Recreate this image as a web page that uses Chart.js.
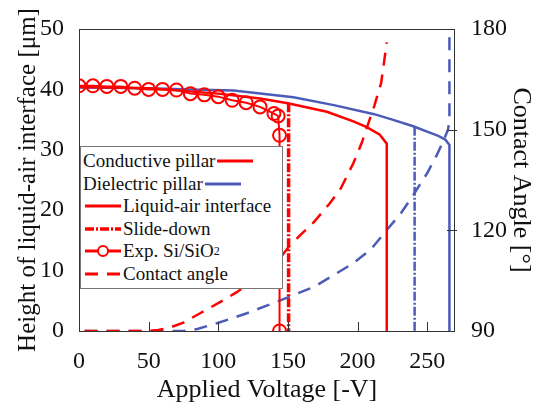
<!DOCTYPE html>
<html>
<head>
<meta charset="utf-8">
<script src="https://cdn.jsdelivr.net/npm/chart.js@4.4.1/dist/chart.umd.min.js"></script>
<style>
  html, body { margin: 0; padding: 0; background: #fff; }
  #wrap { position: relative; width: 539px; height: 403px; }
  #legend {
    position: absolute; left: 80px; top: 146px; width: 201px;
    padding: 3px 0; border: 1px solid #777; background: #fff;
    font-family: "Liberation Serif", "DejaVu Serif", serif; font-size: 19px; color: #111;
  }
  #legend .row { height: 22.5px; line-height: 22.5px; white-space: nowrap; display: flex; align-items: center; }
  #legend svg { display: block; flex: none; }
  #legend sub { font-size: 12px; line-height: 0; }
</style>
</head>
<body>
<div id="wrap">
  <canvas id="chart" width="539" height="403"></canvas>
  <div id="legend">
    <div class="row" style="padding-left:2px">Conductive pillar<svg width="38" height="6"><line x1="2" y1="3" x2="38" y2="3" stroke="#ff0000" stroke-width="3"/></svg></div>
    <div class="row" style="padding-left:2px">Dielectric pillar<svg width="38" height="6"><line x1="2" y1="3" x2="38" y2="3" stroke="#4b5cb8" stroke-width="3"/></svg></div>
    <div class="row"><svg width="42" height="14"><line x1="4" y1="7" x2="40" y2="7" stroke="#ff0000" stroke-width="3"/></svg>Liquid-air interface</div>
    <div class="row"><svg width="42" height="14"><line x1="4" y1="7" x2="40" y2="7" stroke="#ff0000" stroke-width="3.5" stroke-dasharray="9 2 2 2"/></svg>Slide-down</div>
    <div class="row"><svg width="42" height="14"><line x1="4" y1="7" x2="40" y2="7" stroke="#ff0000" stroke-width="3"/><circle cx="22" cy="7" r="5" fill="#fff" stroke="#ff0000" stroke-width="2"/></svg>Exp. Si/SiO<sub>2</sub></div>
    <div class="row"><svg width="42" height="14"><line x1="4" y1="7" x2="40" y2="7" stroke="#ff0000" stroke-width="3" stroke-dasharray="13 9"/></svg>Contact angle</div>
  </div>
</div>
<script>
// --- Data ---
// experimental Si/SiO2 heights
const expV = [0, 10, 20, 30, 40, 50, 60, 70, 80, 90, 100, 110, 120, 130, 140, 143, 144, 144];
const expH = [40.6, 40.6, 40.5, 40.5, 40.2, 40.0, 40.0, 39.9, 39.3, 39.1, 38.8, 38.2, 37.8, 37.1, 36.0, 35.6, 32.4, 0];

// conductive pillar, liquid-air interface (model)
const condV = [0, 50, 100, 130, 150, 178, 197, 207, 216, 221, 221];
const condH = [40.4, 40.2, 39.3, 38.5, 37.7, 36.3, 34.7, 33.7, 32.5, 31.0, 0];

// dielectric pillar, liquid-air interface (model)
const dielV = [0, 50, 80, 111, 154, 183, 212, 225, 240, 250, 258, 263, 266, 266];
const dielH = [40.3, 40.2, 40.0, 39.8, 38.7, 37.4, 35.9, 35.0, 33.9, 33.0, 32.3, 31.7, 30.8, 0];

// slide-down
const condSlideV = [150.5, 150.5];
const condSlideH = [37.7, 0];
const dielSlideV = [241, 241];
const dielSlideH = [33.8, 0];

// contact angle (right axis)
const condAngV = [4, 50, 57, 65, 75, 87, 100, 113, 125, 135, 144, 151, 160, 169, 180, 188, 197, 203, 207, 212, 217, 221];
const condAng = [90, 90, 90.3, 91, 92.5, 95.3, 98.3, 101.5, 105, 108, 111.5, 115.3, 119, 122.6, 128, 132.5, 140, 146, 151, 157, 164, 176];
const dielAngV = [4, 75, 85, 99, 120, 142, 169, 197, 210, 221, 231, 240, 250, 257, 262, 265, 266, 266];
const dielAng = [90, 90, 90.6, 92.3, 95.2, 98.7, 103.2, 110.2, 114.5, 120.1, 125, 130.5, 137, 142.5, 147, 150, 153, 180];

// axes
const xTicks = [0, 50, 100, 150, 200, 250];
const yTicks = [0, 10, 20, 30, 40, 50];
const y2Ticks = [90, 120, 150, 180];

const RED = '#ff0000';
const BLUE = '#4b5cb8';
const SERIF = '"Liberation Serif", "DejaVu Serif", serif';

const pts = (xs, ys) => xs.map((x, i) => ({ x: x, y: ys[i] }));

// frame + inward tick marks
const framePlugin = {
    id: 'frame',
    afterDatasetsDraw(chart) {
        const { ctx, chartArea: a, scales } = chart;
        ctx.save();
        ctx.strokeStyle = '#333';
        ctx.lineWidth = 1;
        ctx.strokeRect(a.left + 0.5, a.top + 0.5, a.right - a.left - 1, a.bottom - a.top);
        ctx.beginPath();
        xTicks.slice(1).forEach(v => {
            const px = Math.round(scales.x.getPixelForValue(v)) + 0.5;
            ctx.moveTo(px, a.bottom);
            ctx.lineTo(px, a.bottom - 9);
        });
        y2Ticks.slice(1, -1).forEach(v => {
            const py = Math.round(scales.y2.getPixelForValue(v)) + 0.5;
            ctx.moveTo(a.right - 8, py);
            ctx.lineTo(a.right + 2, py);
        });
        ctx.stroke();
        ctx.restore();
    }
};

const chart = new Chart(document.getElementById('chart'), {
    type: 'line',
    data: {
        datasets: [
            { data: pts(expV, expH), borderColor: RED, borderWidth: 2, pointRadius: 6.5, pointBorderWidth: 2,
              pointBackgroundColor: 'rgba(0,0,0,0)', pointBorderColor: RED, yAxisID: 'y' },
            { data: pts(condSlideV, condSlideH), borderColor: RED, borderWidth: 3.5, borderDash: [9, 2, 2, 2], pointRadius: 0, yAxisID: 'y' },
            { data: pts(dielSlideV, dielSlideH), borderColor: BLUE, borderWidth: 2.5, borderDash: [9, 2, 2, 2], pointRadius: 0, yAxisID: 'y' },
            { data: pts(condV, condH), borderColor: RED, borderWidth: 2.5, pointRadius: 0, yAxisID: 'y' },
            { data: pts(dielV, dielH), borderColor: BLUE, borderWidth: 2.5, pointRadius: 0, yAxisID: 'y' },
            { data: pts(condAngV, condAng), borderColor: RED, borderWidth: 2.5, borderDash: [13, 9], pointRadius: 0, yAxisID: 'y2' },
            { data: pts(dielAngV, dielAng), borderColor: BLUE, borderWidth: 2.5, borderDash: [13, 9], pointRadius: 0, yAxisID: 'y2' }
        ]
    },
    options: {
        responsive: false,
        animation: false,
        devicePixelRatio: 1,
        layout: { padding: { top: 29, left: 0, right: 0, bottom: 0 } },
        plugins: { legend: { display: false }, tooltip: { enabled: false } },
        elements: { line: { tension: 0 } },
        scales: {
            x: {
                type: 'linear', min: 0, max: 270,
                afterBuildTicks: s => { s.ticks = xTicks.map(v => ({ value: v })); },
                afterFit: s => { s.height = 72; },
                grid: { display: false }, border: { display: false },
                ticks: { color: '#111', padding: 8, font: { family: SERIF, size: 24 } },
                title: { display: true, text: 'Applied Voltage [-V]', color: '#111',
                         padding: { top: 0, bottom: 0 }, font: { family: SERIF, size: 26, lineHeight: 1 } }
            },
            y: {
                position: 'left', min: 0, max: 50,
                afterBuildTicks: s => { s.ticks = yTicks.map(v => ({ value: v })); },
                afterFit: s => { s.width = 79; },
                grid: { display: false }, border: { display: false },
                ticks: { color: '#111', padding: 7, font: { family: SERIF, size: 24 } },
                title: { display: true, text: 'Height of liquid-air interface [μm]', color: '#111',
                         padding: { top: 13, bottom: 0 }, font: { family: SERIF, size: 25 } }
            },
            y2: {
                position: 'right', min: 90, max: 180,
                afterBuildTicks: s => { s.ticks = y2Ticks.map(v => ({ value: v })); },
                afterFit: s => { s.width = 84; },
                grid: { display: false }, border: { display: false },
                ticks: { color: '#111', padding: 8, font: { family: SERIF, size: 24 } },
                title: { display: true, text: 'Contact Angle [°]', color: '#111',
                         padding: { top: 3, bottom: 0 }, font: { family: SERIF, size: 26 } }
            }
        }
    },
    plugins: [framePlugin]
});
</script>
</body>
</html>
